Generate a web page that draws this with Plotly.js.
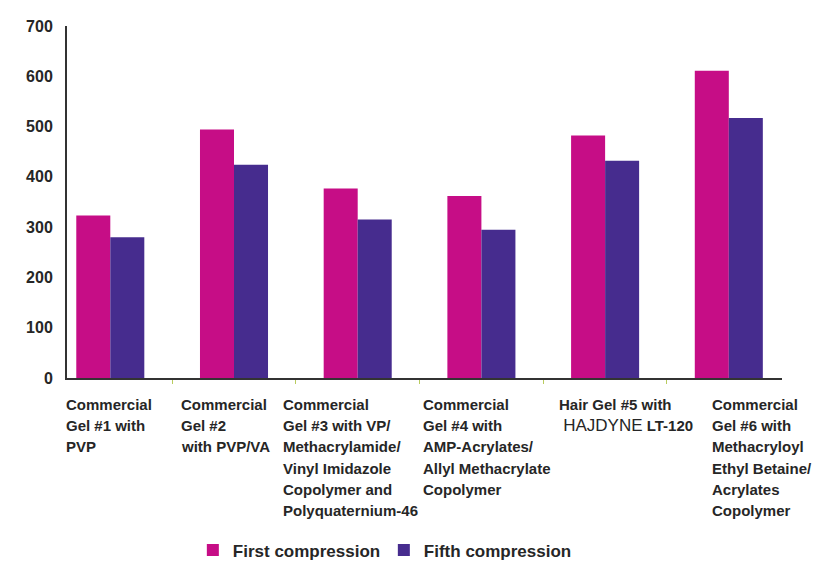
<!DOCTYPE html>
<html>
<head>
<meta charset="utf-8">
<script src="https://cdn.plot.ly/plotly-3.0.1.min.js"></script>
<style>
  html, body { margin: 0; padding: 0; background: #fff; }
  #chart { width: 817px; height: 581px; }
</style>
</head>
<body>
<div id="chart"></div>
<script>
// Hair gel stiffness after repeated compression
const categories = [
  'Commercial<br>Gel #1 with<br>PVP',
  'Commercial<br>Gel #2<br>with PVP/VA',
  'Commercial<br>Gel #3 with VP/<br>Methacrylamide/<br>Vinyl Imidazole<br>Copolymer and<br>Polyquaternium-46',
  'Commercial<br>Gel #4 with<br>AMP-Acrylates/<br>Allyl Methacrylate<br>Copolymer',
  'Hair Gel #5 with<br> <span style="font-weight:normal;font-size:17px">HAJDYNE</span> LT-120',
  'Commercial<br>Gel #6 with<br>Methacryloyl<br>Ethyl Betaine/<br>Acrylates<br>Copolymer'
];
const firstCompression = [323, 494, 377, 362, 482, 611];
const fifthCompression = [280, 424, 315, 295, 432, 517];
const seriesNames = ['First compression', 'Fifth compression'];
const yTicks = [0, 100, 200, 300, 400, 500, 600, 700];

const FONT = "'Liberation Sans', Arial, Helvetica, sans-serif";
const TEXT = '#262626';

const traces = [
  {
    type: 'bar', name: seriesNames[0], x: categories, y: firstCompression,
    marker: { color: '#C60D86', line: { width: 0 } }, hoverinfo: 'y'
  },
  {
    type: 'bar', name: seriesNames[1], x: categories, y: fifthCompression,
    marker: { color: '#462C8E', line: { width: 0 } }, hoverinfo: 'y'
  }
];

// Category labels: left-aligned blocks under the axis, one annotation per line
const PLOT_H = 360;          // plot area height in px (581 - 26 - 195)
const FIRST_LINE_PX = 27;    // first label line centre, px below the x axis
const LINE_PX = 21.7;        // line pitch, px
const labelLeft = [-0.004, 0.157, 0.299, 0.495, 0.686, 0.899];
const annotations = [];
categories.forEach((label, i) => {
  label.split('<br>').forEach((line, j) => {
    annotations.push({
      xref: 'paper', yref: 'paper',
      x: labelLeft[i], y: -(FIRST_LINE_PX + j * LINE_PX) / PLOT_H,
      xanchor: 'left', yanchor: 'middle', align: 'left',
      showarrow: false, text: line,
      font: { family: FONT, size: 15, color: TEXT, weight: 'bold' }
    });
  });
});

const layout = {
  width: 817, height: 581,
  margin: { l: 67, r: 35, t: 26, b: 195 },
  paper_bgcolor: '#fff', plot_bgcolor: '#fff',
  barmode: 'group', bargap: 0.45, bargroupgap: 0,
  showlegend: true,
  legend: {
    orientation: 'h', x: 0.176, y: -0.49, xanchor: 'left', yanchor: 'middle',
    font: { family: FONT, size: 17, color: TEXT, weight: 'bold' },
    itemwidth: 30, entrywidth: 146, entrywidthmode: 'pixels'
  },
  xaxis: {
    type: 'category', range: [-0.35, 5.43],
    showticklabels: false, showgrid: false, zeroline: false,
    showline: true, linecolor: '#333', linewidth: 2,
    ticks: 'outside', tickson: 'boundaries', ticklen: 4, tickwidth: 1, tickcolor: '#b9cc5e'
  },
  yaxis: {
    range: [0, 700], tickvals: yTicks, ticktext: yTicks.map(String),
    showgrid: false, zeroline: false,
    showline: true, linecolor: '#333', linewidth: 2,
    ticks: '', ticklabelstandoff: 9,
    tickfont: { family: FONT, size: 16, color: TEXT, weight: 'bold' }
  },
  annotations: annotations
};

Plotly.newPlot('chart', traces, layout, { displayModeBar: false, staticPlot: true });
</script>
</body>
</html>
